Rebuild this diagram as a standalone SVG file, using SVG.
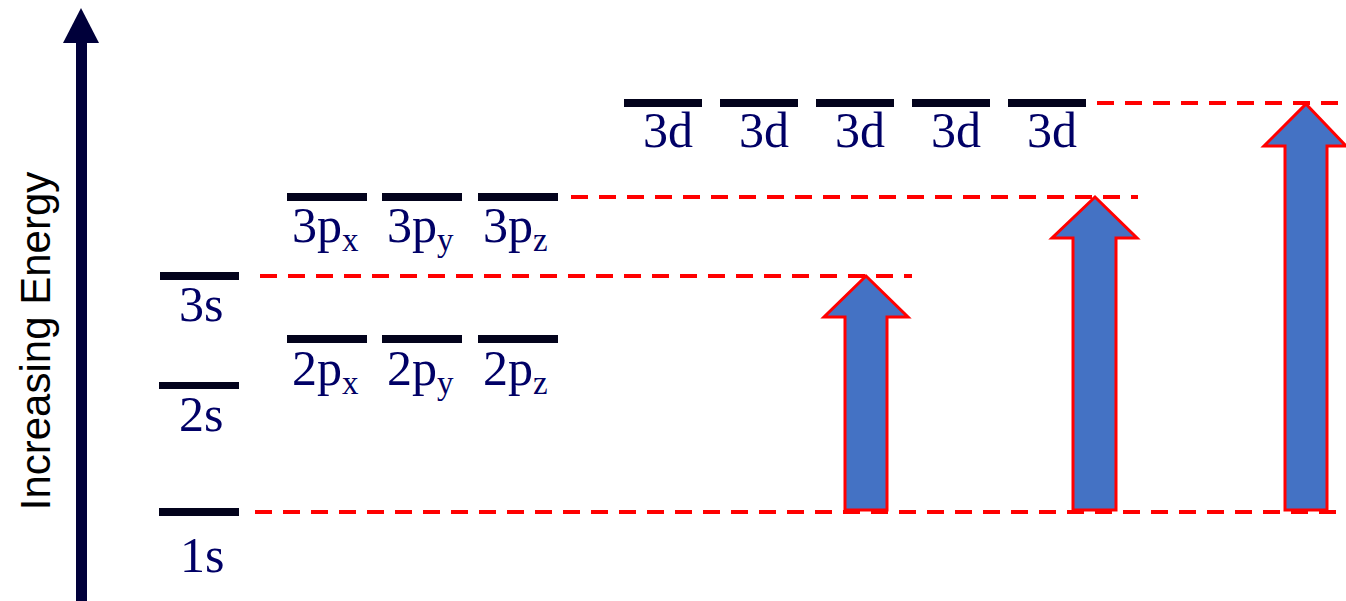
<svg xmlns="http://www.w3.org/2000/svg" width="1346" height="601" viewBox="0 0 1346 601">
<style>
.bar{fill:#03031c}
.lbl{font-family:"Liberation Serif","Times New Roman",serif;font-size:50px;fill:#000066}
.sub{font-size:33px}
.dash{stroke:#ff0000;stroke-width:4;stroke-dasharray:17 11;fill:none}
.up{fill:#4472c4;stroke:#ff0000;stroke-width:3;stroke-linejoin:miter}
.axis-label{font-family:"Liberation Sans",Arial,sans-serif;font-size:42px;fill:#000000}
</style>
<rect width="1346" height="601" fill="#ffffff"/>
<g id="axis">
<rect x="76" y="40" width="11" height="561" fill="#00003a"/>
<polygon points="81,8 99,43 63,43" fill="#00003a"/>
<text class="axis-label" transform="translate(50,341) rotate(-90)" text-anchor="middle">Increasing Energy</text>
</g>
<g id="connectors">
<line class="dash" x1="255" y1="512" x2="1338" y2="512"/>
<line class="dash" x1="260" y1="276" x2="912" y2="276"/>
<line class="dash" x1="571" y1="197" x2="1138" y2="197"/>
<line class="dash" x1="1097" y1="103" x2="1340" y2="103"/>
</g>
<g id="level-1s"><rect class="bar" x="159" y="508" width="80" height="8"/><text class="lbl" x="180" y="572">1s</text></g>
<g id="level-2s"><rect class="bar" x="159" y="382" width="80" height="7"/><text class="lbl" x="179" y="431">2s</text></g>
<g id="level-3s"><rect class="bar" x="160" y="272" width="79" height="8"/><text class="lbl" x="179" y="321">3s</text></g>
<g id="level-2px"><rect class="bar" x="287" y="335" width="80" height="8"/><text class="lbl" x="292" y="385">2p<tspan class="sub" dy="9">x</tspan></text></g>
<g id="level-2py"><rect class="bar" x="382" y="335" width="80" height="8"/><text class="lbl" x="387" y="385">2p<tspan class="sub" dy="9">y</tspan></text></g>
<g id="level-2pz"><rect class="bar" x="478" y="335" width="80" height="8"/><text class="lbl" x="483" y="385">2p<tspan class="sub" dy="9">z</tspan></text></g>
<g id="level-3px"><rect class="bar" x="287" y="193" width="80" height="8"/><text class="lbl" x="292" y="242">3p<tspan class="sub" dy="9">x</tspan></text></g>
<g id="level-3py"><rect class="bar" x="382" y="193" width="80" height="8"/><text class="lbl" x="387" y="242">3p<tspan class="sub" dy="9">y</tspan></text></g>
<g id="level-3pz"><rect class="bar" x="478" y="193" width="80" height="8"/><text class="lbl" x="483" y="242">3p<tspan class="sub" dy="9">z</tspan></text></g>
<g id="level-3d-1"><rect class="bar" x="624" y="99" width="78" height="8"/><text class="lbl" x="643" y="147">3d</text></g>
<g id="level-3d-2"><rect class="bar" x="720" y="99" width="78" height="8"/><text class="lbl" x="739" y="147">3d</text></g>
<g id="level-3d-3"><rect class="bar" x="816" y="99" width="78" height="8"/><text class="lbl" x="835" y="147">3d</text></g>
<g id="level-3d-4"><rect class="bar" x="912" y="99" width="78" height="8"/><text class="lbl" x="931" y="147">3d</text></g>
<g id="level-3d-5"><rect class="bar" x="1008" y="99" width="78" height="8"/><text class="lbl" x="1027" y="147">3d</text></g>
<g id="arrow-1s-3s"><polygon class="up" points="866,276 908,317 887,317 887,510 845,510 845,317 824,317"/></g>
<g id="arrow-1s-3p"><polygon class="up" points="1095,197 1137,238 1116,238 1116,510 1073,510 1073,238 1052,238"/></g>
<g id="arrow-1s-3d"><polygon class="up" points="1306,104 1346,146 1327,146 1327,510 1285,510 1285,146 1264,146"/></g>
</svg>
